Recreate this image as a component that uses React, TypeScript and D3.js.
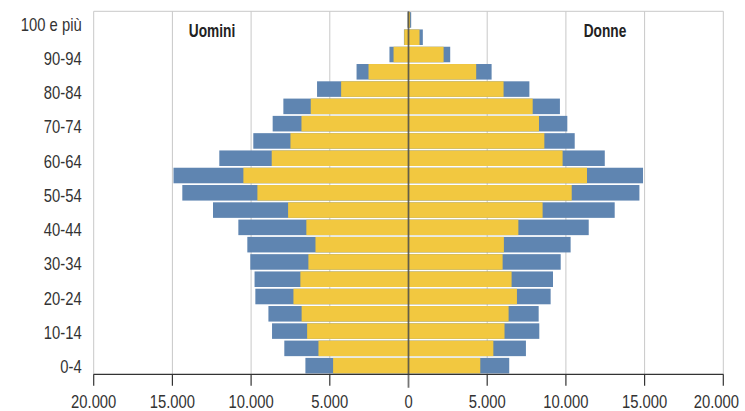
import React from 'react';
import * as d3 from 'd3';

// fasce d'età dal basso verso l'alto
const eta = [
  '0-4', '5-9', '10-14', '15-19', '20-24', '25-29', '30-34', '35-39', '40-44', '45-49',
  '50-54', '55-59', '60-64', '65-69', '70-74', '75-79', '80-84', '85-89', '90-94', '95-99', '100 e più',
];

// parte gialla (interna) e parte blu (esterna), uomini
const uominiGiallo = [4790, 5720, 6440, 6790, 7310, 6870, 6360, 5910, 6490, 7650, 9600, 10490, 8690, 7500, 6800, 6210, 4280, 2540, 950, 270, 40];
const uominiBlu = [1760, 2170, 2230, 2110, 2420, 2910, 3690, 4330, 4320, 4770, 4770, 4440, 3330, 2360, 1830, 1740, 1530, 760, 260, 20, 20];

// donne
const donneGiallo = [4560, 5390, 6100, 6360, 6890, 6550, 5980, 6060, 6980, 8520, 10370, 11340, 9790, 8630, 8290, 7890, 6040, 4300, 2230, 700, 100];
const donneBlu = [1840, 2070, 2210, 1910, 2140, 2630, 3690, 4240, 4470, 4580, 4300, 3560, 2680, 1930, 1800, 1730, 1640, 980, 420, 210, 70];

const xTicks = [-20000, -15000, -10000, -5000, 0, 5000, 10000, 15000, 20000];
const etichetteY = eta.filter((_, i) => i % 2 === 0);

const W = 745;
const H = 411;
const left = 93.7;
const right = 723.3;
const top = 11.3;
const bottom = 374.3;

const GIALLO = '#f2c840';
const BLU = '#5f85b1';
const FONT = '"Liberation Sans", Arial, sans-serif';
const FS = 18.5;
const SX = 0.8;

// larghezze (em) di Liberation Sans, per stringere il testo come un font condensato
const wReg: Record<string, number> = { '.': 0.278, '-': 0.333, ' ': 0.278, e: 0.556, p: 0.556, i: 0.222, 'ù': 0.556 };
const wBold: Record<string, number> = { U: 0.722, o: 0.611, m: 0.889, i: 0.278, n: 0.611, D: 0.722, e: 0.556 };
const textW = (s: string, bold: boolean) =>
  [...s].reduce((a, c) => a + ((bold ? wBold[c] : wReg[c]) ?? 0.556), 0) * FS;

const Narrow: React.FC<{ x: number; y: number; anchor: string; sx?: number; bold?: boolean; text: string }> = ({ x, y, anchor, sx = SX, bold = false, text }) => (
  <text
    x={x}
    y={y}
    textAnchor={anchor}
    fontSize={FS}
    fontWeight={bold ? 'bold' : 'normal'}
    fill={bold ? '#222' : '#333'}
    textLength={textW(text, bold) * sx}
    lengthAdjust="spacingAndGlyphs"
  >
    {text}
  </text>
);

const App: React.FC = () => {
  const x = d3.scaleLinear().domain([-20000, 20000]).range([left, right]);
  const y = d3.scaleBand<string>().domain([...eta].reverse()).range([top, bottom]).paddingInner(0.1).paddingOuter(0.05);
  const yLab = d3.scaleBand<string>().domain([...eta].reverse()).range([15.5, 375]);
  const fmt = (v: number) => d3.format(',')(Math.abs(v)).replace(/,/g, '.');

  const rows = eta.map((e, i) => ({
    e,
    uy: uominiGiallo[i],
    ub: uominiBlu[i],
    dy: donneGiallo[i],
    db: donneBlu[i],
  }));

  return (
    <svg width={W} height={H} style={{ position: 'absolute', left: 0, top: 0, fontFamily: FONT }}>
      <rect width={W} height={H} fill="#fff" />
      {/* griglia */}
      {xTicks.map(t => (
        <line key={t} x1={x(t)} x2={x(t)} y1={top} y2={bottom} stroke="#c8c8c8" strokeWidth={1} />
      ))}
      <line x1={left} x2={right} y1={top} y2={top} stroke="#c8c8c8" strokeWidth={1} />

      {/* barre */}
      {rows.map(r => {
        const y0 = y(r.e)!;
        const h = y.bandwidth();
        return (
          <g key={r.e}>
            <rect x={x(-(r.uy + r.ub))} y={y0} width={x(0) - x(-(r.uy + r.ub))} height={h} fill={BLU} />
            <rect x={x(-r.uy)} y={y0} width={x(0) - x(-r.uy)} height={h} fill={GIALLO} />
            <rect x={x(0)} y={y0} width={x(r.dy + r.db) - x(0)} height={h} fill={BLU} />
            <rect x={x(0)} y={y0} width={x(r.dy) - x(0)} height={h} fill={GIALLO} />
          </g>
        );
      })}

      {/* asse x */}
      <line x1={left} x2={right} y1={bottom} y2={bottom} stroke="#333" strokeWidth={1.2} />
      {xTicks.map(t => {
        const label = fmt(t);
        const half = (textW(label, false) * SX) / 2;
        const lx = Math.min(x(t), W - 6 - half);
        return (
          <g key={'t' + t}>
            {t !== 0 && <line x1={x(t)} x2={x(t)} y1={bottom} y2={bottom + 11.5} stroke="#333" strokeWidth={1.2} />}
            <Narrow x={lx} y={408.3} anchor="middle" text={label} />
          </g>
        );
      })}
      {/* linea dello zero */}
      <line x1={x(0)} x2={x(0)} y1={top} y2={bottom + 13.5} stroke="#3a3a3a" strokeOpacity={0.7} strokeWidth={1.8} />

      {/* etichette età */}
      {etichetteY.map(e => (
        <Narrow key={e} x={81.7} y={yLab(e)! + yLab.bandwidth() / 2 + 6.6} anchor="end" text={e} />
      ))}

      <Narrow x={212} y={36.7} anchor="middle" sx={0.74} bold text="Uomini" />
      <Narrow x={605} y={36.7} anchor="middle" sx={0.74} bold text="Donne" />
    </svg>
  );
};

export default App;
